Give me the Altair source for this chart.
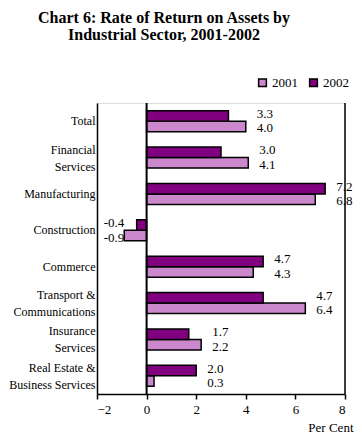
import altair as alt
import pandas as pd

sectors = ["Total", "Financial Services", "Manufacturing", "Construction", "Commerce",
           "Transport & Communications", "Insurance Services", "Real Estate & Business Services"]
v2001 = [4.0, 4.1, 6.8, -0.9, 4.3, 6.4, 2.2, 0.3]
v2002 = [3.3, 3.0, 7.2, -0.4, 4.7, 4.7, 1.7, 2.0]
years = ["2001", "2002"]
colors = ["#cc88cc", "#800080"]

rows = []
for i, s in enumerate(sectors):
    mx = max(v2001[i], v2002[i])
    mn = min(v2001[i], v2002[i])
    neg = mn < 0
    for y, v in (("2001", v2001[i]), ("2002", v2002[i])):
        rows.append({"sector": s, "year": y, "value": v,
                     "lx": mn if neg else mx, "neg": neg,
                     "label": f"{v:.1f}"})
df = pd.DataFrame(rows)

font = "Liberation Serif, Times New Roman, serif"
label_expr = ("datum.value == 'Financial Services' ? ['Financial','Services'] : "
              "datum.value == 'Transport & Communications' ? ['Transport &','Communications'] : "
              "datum.value == 'Insurance Services' ? ['Insurance','Services'] : "
              "datum.value == 'Real Estate & Business Services' ? ['Real Estate &','Business Services'] : "
              "datum.value")

yenc = alt.Y("sector:N", sort=sectors, title=None,
             scale=alt.Scale(paddingInner=0.42, paddingOuter=0.21),
             axis=alt.Axis(labelExpr=label_expr, labelFont=font, labelFontSize=12,
                           labelColor="black", labelPadding=2, ticks=False,
                           domainColor="black", domainWidth=1.5, labelLineHeight=17,
                           labelLimit=200,
                           labelOffset=alt.condition("indexof(datum.value, ' ') >= 0",
                                                     alt.value(-8), alt.value(0))))
yoff = alt.YOffset("year:N", sort=["2002", "2001"], scale=alt.Scale(paddingInner=0))

xscale = alt.Scale(domain=[-2, 8], nice=False)

bars = alt.Chart(df).mark_bar(stroke="black", strokeWidth=1.5).encode(
    x=alt.X("value:Q", scale=xscale, title="Per Cent",
            axis=alt.Axis(values=[-2, 0, 2, 4, 6, 8], grid=False, labelFont=font,
                          labelFontSize=13, labelColor="black", tickColor="black",
                          tickSize=5, tickWidth=1.5, domainColor="black", domainWidth=1.5,
                          titleFont=font, titleFontSize=13, titleFontWeight="normal",
                          titleColor="black", titleAlign="right", titleAnchor="end",
                          titleX=256, titleY=37, titleBaseline="alphabetic",
                          labelPadding=4)),
    x2=alt.datum(0),
    y=yenc,
    yOffset=yoff,
    color=alt.Color("year:N", scale=alt.Scale(domain=years, range=colors),
                    legend=alt.Legend(title=None, orient="none", direction="horizontal",
                                      legendX=159, legendY=-27, symbolType="square",
                                      symbolSize=60, symbolStrokeColor="black",
                                      symbolStrokeWidth=1.5, labelFont=font,
                                      labelFontSize=13, labelColor="black",
                                      columnPadding=8, symbolOffset=0, labelOffset=3)),
)


def label_layer(neg, year, dy):
    flt = ("datum.neg" if neg else "!datum.neg") + f" && datum.year == '{year}'"
    return alt.Chart(df).transform_filter(flt).mark_text(
        align="right" if neg else "left", dx=0 if neg else 11, dy=dy,
        font=font, fontSize=13, color="black", baseline="middle"
    ).encode(x=alt.X("lx:Q", scale=xscale), y=alt.Y("sector:N", sort=sectors),
             yOffset=yoff, text="label:N")


texts = [label_layer(False, "2002", -2), label_layer(False, "2001", 2),
         label_layer(True, "2002", -2), label_layer(True, "2001", 2)]

rules_df = pd.DataFrame({"x": [0, 8], "w": [2, 1.5]})
rules = alt.Chart(rules_df).mark_rule(color="black").encode(
    x=alt.X("x:Q", scale=xscale), strokeWidth=alt.StrokeWidth("w:Q", scale=None))

chart = alt.layer(bars, rules, *texts).properties(
    width=248, height=291,
    title=alt.TitleParams(["Chart 6: Rate of Return on Assets by", "Industrial Sector, 2001-2002"],
                          font=font, fontSize=16, fontWeight="bold", color="black",
                          anchor="middle", align="center", dx=-57, offset=33, lineHeight=17),
    autosize=alt.AutoSizeParams(type="none"),
    padding={"left": 89, "top": 95, "right": 9, "bottom": 45},
).configure_view(stroke=None).configure(background="white")

chart.save("out.html", embed_options={"renderer": "svg", "actions": False})
